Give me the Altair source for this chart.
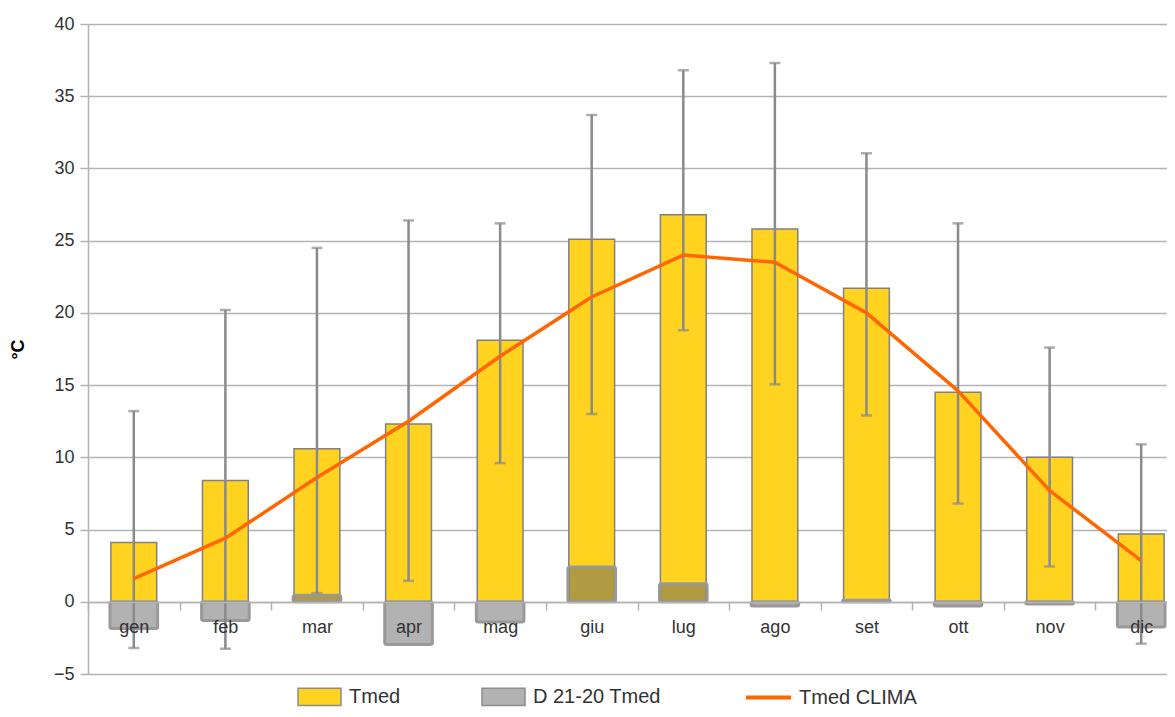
import altair as alt
import pandas as pd

months = ["gen", "feb", "mar", "apr", "mag", "giu", "lug", "ago", "set", "ott", "nov", "dic"]
tmed = [4.1, 8.4, 10.6, 12.3, 18.1, 25.1, 26.8, 25.8, 21.7, 14.5, 10.0, 4.7]
delta = [-1.85, -1.3, 0.45, -2.95, -1.4, 2.4, 1.25, -0.3, 0.1, -0.3, -0.15, -1.75]
tmin = [-3.2, -3.25, 0.6, 1.45, 9.6, 13.0, 18.8, 15.05, 12.9, 6.8, 2.45, -2.9]
tmax = [13.2, 20.2, 24.5, 26.4, 26.2, 33.7, 36.8, 37.3, 31.05, 26.2, 17.6, 10.9]
clima = [1.6, 4.4, 8.6, 12.5, 17.0, 21.1, 24.0, 23.5, 20.0, 14.6, 7.7, 2.85]

df = pd.DataFrame({"mese": months, "tmed": tmed, "delta": delta,
                   "tmin": tmin, "tmax": tmax, "clima": clima})

FONT = "Liberation Sans"
GRID = "#b3b3b3"
ERR = "#8a8a8a"

x = alt.X("mese:N", sort=months,
          scale=alt.Scale(range=[0, 1099], paddingInner=0, paddingOuter=0),
          axis=alt.Axis(title=None, labelAngle=0, offset=-72, tickBand="extent",
                        domainColor=GRID, domainWidth=1.5, tickColor=GRID, tickWidth=1.5,
                        tickSize=8, labelFontSize=18, labelColor="#333333",
                        labelPadding=8, grid=False, labelFont=FONT, zindex=2))
ysc = alt.Scale(domain=[-5, 40], nice=False, zero=False)
yaxis = alt.Axis(title="°C", values=list(range(-5, 41, 5)), grid=True,
                 gridColor=GRID, gridWidth=1.5, domainColor=GRID, domainWidth=1.5,
                 tickColor=GRID, tickWidth=1.5, tickSize=8, labelFontSize=18,
                 labelColor="#333333", labelPadding=6, labelFont=FONT,
                 titleFont=FONT, titleFontSize=18, titleFontWeight="bold",
                 titleColor="#000000", titlePadding=26)

fill_scale = alt.Scale(domain=["Tmed", "D 21-20 Tmed"], range=["#FFD320", "#B2B2B2"])
fill_legend = alt.Legend(title=None, orient="none", legendX=209, legendY=650,
                         direction="horizontal",
                         symbolType="M-1,-0.4H1V0.4H-1Z", symbolSize=1849,
                         symbolStrokeColor="#8c8c8c", symbolStrokeWidth=1.5,
                         labelFontSize=20, labelFont=FONT, labelColor="#333333",
                         labelOffset=7, columnPadding=78)
stroke_legend = alt.Legend(title=None, orient="none", legendX=656, legendY=649,
                           direction="horizontal", symbolType="stroke",
                           symbolSize=2025, symbolStrokeWidth=4,
                           labelFontSize=20, labelFont=FONT, labelColor="#333333",
                           labelOffset=6)

base = alt.Chart(df)

bars = base.transform_calculate(serie="'Tmed'").mark_bar(
    stroke="#808080", strokeWidth=1.5, width=alt.RelativeBandSize(0.5)
).encode(
    x=x,
    y=alt.Y("tmed:Q", scale=ysc, axis=yaxis),
    y2=alt.datum(0),
    fill=alt.Fill("serie:N", scale=fill_scale, legend=fill_legend),
)

delta_neg = base.transform_filter(alt.datum.delta < 0).transform_calculate(
    serie="'D 21-20 Tmed'"
).mark_bar(
    stroke="#999999", strokeWidth=3, cornerRadius=2, width=alt.RelativeBandSize(0.52)
).encode(
    x=x,
    y=alt.Y("delta:Q", scale=ysc),
    y2=alt.datum(0),
    fill=alt.Fill("serie:N", scale=fill_scale, legend=fill_legend),
)

delta_pos = base.transform_filter(alt.datum.delta >= 0).mark_bar(
    fill="#646464", fillOpacity=0.5, stroke="#999999", strokeWidth=3,
    cornerRadius=2, width=alt.RelativeBandSize(0.52)
).encode(
    x=x,
    y=alt.Y("delta:Q", scale=ysc),
    y2=alt.datum(0),
)

err = base.mark_rule(color=ERR, strokeWidth=2.5).encode(
    x=x, y=alt.Y("tmin:Q", scale=ysc), y2="tmax:Q")
cap_lo = base.mark_tick(color=ERR, thickness=2.5, size=11).encode(
    x=x, y=alt.Y("tmin:Q", scale=ysc))
cap_hi = base.mark_tick(color=ERR, thickness=2.5, size=11).encode(
    x=x, y=alt.Y("tmax:Q", scale=ysc))

line = base.transform_calculate(serie2="'Tmed CLIMA'").mark_line(
    strokeWidth=3.5, strokeJoin="round"
).encode(
    x=x,
    y=alt.Y("clima:Q", scale=ysc),
    stroke=alt.Stroke("serie2:N",
                      scale=alt.Scale(domain=["Tmed CLIMA"], range=["#FF6600"]),
                      legend=stroke_legend),
)

chart = alt.layer(bars, delta_neg, delta_pos, err, cap_lo, cap_hi, line).resolve_scale(
    fill="shared"
).properties(
    width=1079, height=650,
    autosize=alt.AutoSizeParams(type="none"),
    padding={"left": 80, "top": 16, "right": 0, "bottom": 35},
    background="#ffffff",
).configure_view(stroke=None)

chart.save("out.html", embed_options={"renderer": "svg", "actions": False})
